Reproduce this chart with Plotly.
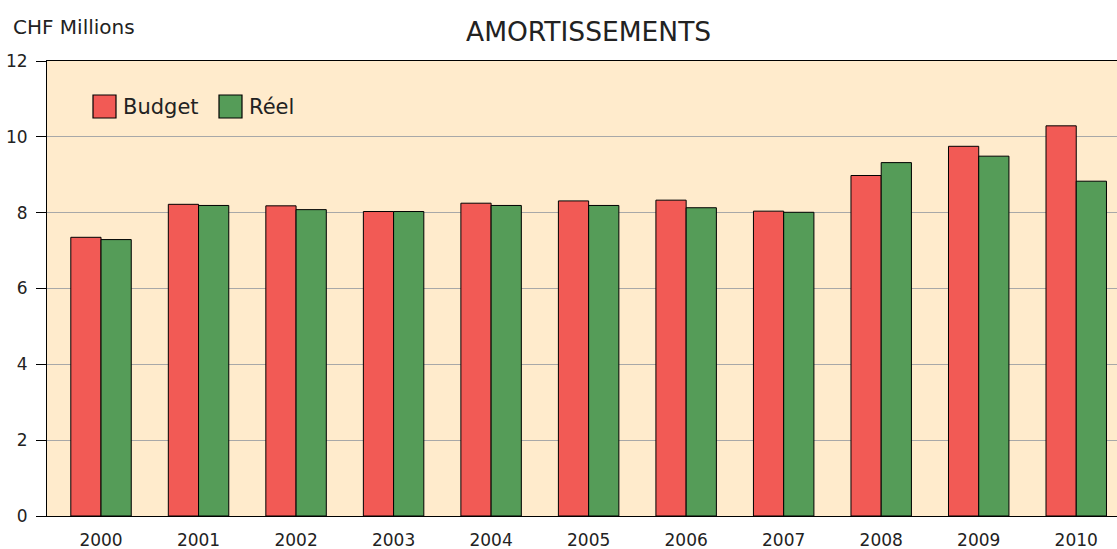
import plotly.graph_objects as go

years = ["2000", "2001", "2002", "2003", "2004", "2005", "2006", "2007", "2008", "2009", "2010"]
budget = [7.35, 8.22, 8.18, 8.03, 8.25, 8.31, 8.33, 8.04, 8.98, 9.75, 10.29]
reel = [7.29, 8.19, 8.08, 8.03, 8.19, 8.19, 8.13, 8.01, 9.32, 9.49, 8.83]
series_names = ["Budget", "Réel"]
colors = ["#F25A55", "#559C58"]

FONT = "'DejaVu Sans', sans-serif"
TXT = "#222222"

fig = go.Figure()
for name, vals, col in zip(series_names, [budget, reel], colors):
    fig.add_trace(go.Bar(name=name, x=years, y=vals,
                         marker=dict(color=col, line=dict(color="black", width=1)),
                         showlegend=False))

# custom legend (square swatches + labels), inside the plot area top-left
shapes = []
annotations = []
leg_x = [93, 219]
PW = 1078.0
PH = 455.0
for i, (name, col) in enumerate(zip(series_names, colors)):
    x0 = leg_x[i]
    shapes.append(dict(type="rect", xref="paper", yref="paper",
                       x0=(x0 - 47) / PW, x1=(x0 + 23 - 47) / PW,
                       y0=(516 - 118) / PH, y1=(516 - 95) / PH,
                       fillcolor=col, line=dict(color="black", width=1.2), layer="above"))
    annotations.append(dict(text=name, xref="paper", yref="paper",
                            x=(x0 + 28 - 47) / PW, y=(516 - 107) / PH,
                            xanchor="left", yanchor="middle", showarrow=False,
                            font=dict(size=21, family=FONT, color=TXT)))

annotations.append(dict(text="CHF Millions", xref="paper", yref="paper",
                        x=(11 - 47) / PW, y=(516 - 27) / PH,
                        xanchor="left", yanchor="middle", showarrow=False,
                        font=dict(size=20, family=FONT, color=TXT)))
annotations.append(dict(text="AMORTISSEMENTS", xref="paper", yref="paper",
                        x=(588 - 47) / PW, y=(516 - 31) / PH,
                        xanchor="center", yanchor="middle", showarrow=False,
                        font=dict(size=26.5, family=FONT, color=TXT)))

fig.update_layout(
    width=1125, height=549,
    margin=dict(l=47, r=0, t=61, b=33, autoexpand=False),
    paper_bgcolor="white", plot_bgcolor="#FFEBCC",
    barmode="group", bargap=0.38, bargroupgap=0,
    font=dict(family=FONT, size=16, color=TXT),
    shapes=shapes, annotations=annotations,
)
fig.update_xaxes(type="category", range=[-0.554, 10.50], showline=True, linecolor="black", linewidth=1,
                 mirror=True, ticks="", showgrid=False, automargin=False,
                 tickfont=dict(size=17, family=FONT, color=TXT), ticklabelstandoff=9)
fig.update_yaxes(range=[0, 12], dtick=2, showline=True, linecolor="black", linewidth=1,
                 ticks="outside", ticklen=10, tickcolor="black", showgrid=True, gridcolor="#A8A8A8",
                 gridwidth=1, zeroline=False, automargin=False,
                 tickfont=dict(size=17, family=FONT, color=TXT), ticklabelstandoff=5)

fig.write_html("out.html", config={"displayModeBar": False},
               post_script="document.body.style.margin='0';document.body.style.overflow='hidden';")
